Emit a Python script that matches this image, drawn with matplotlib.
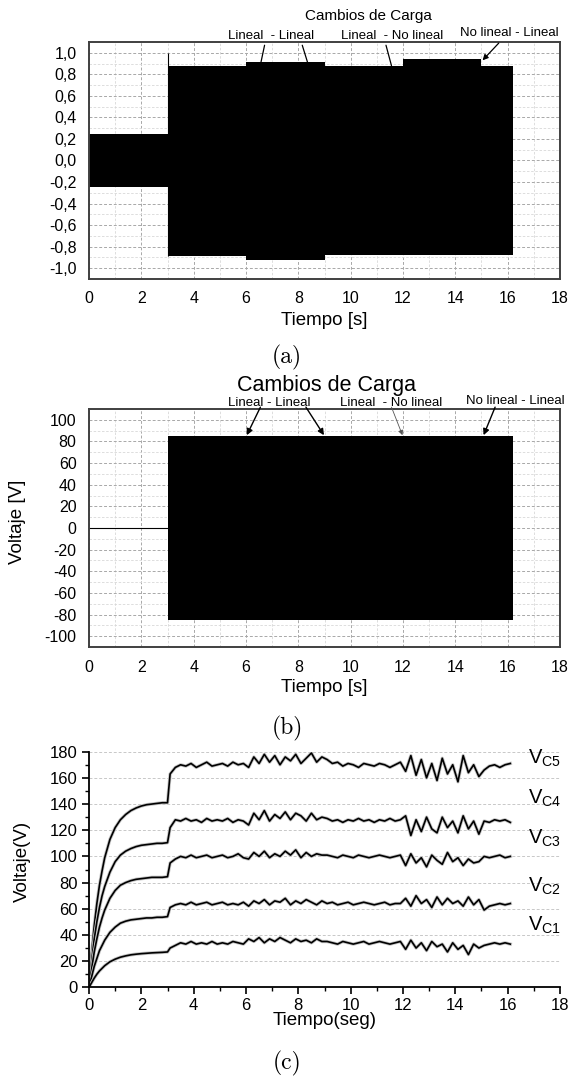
import numpy as np
import matplotlib
matplotlib.use("Agg")
import matplotlib.pyplot as plt
from matplotlib.ticker import MultipleLocator, FuncFormatter

plt.rcParams['font.family'] = ['Liberation Sans', 'DejaVu Sans']
plt.rcParams['axes.unicode_minus'] = False

# ---- (a) señal normalizada: envolvente por tramos ----
seg_edges = [0, 3.0, 6.0, 9.0, 12.0, 15.0, 16.2]
a_upper = [0.25, 0.88, 0.91, 0.88, 0.94, 0.88]
a_lower = [-0.25, -0.89, -0.92, -0.88, -0.88, -0.88]
a_spike_t = 3.0
a_spike_v = 1.0

# ---- (b) voltaje de salida ----
b_edges = [3.0, 16.2]
b_upper = [85.5]
b_lower = [-85.0]
b_pre_t = [0, 3.0]
b_pre_v = [0, 0]

# ---- (c) voltajes de condensadores ----
t_rise = [0, 0.1, 0.2, 0.3, 0.4, 0.5, 0.6, 0.8, 1.0, 1.2, 1.4, 1.6, 1.8, 2.0,
          2.2, 2.4, 2.6, 2.8, 3.0]
t_load = np.round(np.arange(3.1, 16.15, 0.2), 1)

vc5_rise = [0, 26, 47, 64, 78, 89, 99, 113, 122, 128, 132, 135, 137, 138.5,
            139.5, 140, 140.5, 141, 141]
vc4_rise = [0, 20, 37, 50, 61, 70, 77, 88, 96, 101, 104, 106, 107.5, 108.5,
            109, 109.5, 110, 110, 110.5]
vc3_rise = [0, 14, 27, 37, 46, 53, 59, 68, 74, 78, 80, 81.5, 82.5, 83,
            83.5, 84, 84, 84, 84.5]
vc2_rise = [0, 8, 16, 22, 28, 32, 36, 42, 46, 49, 50.5, 51.5, 52, 52.5,
            53, 53, 53.5, 53.5, 54]
vc1_rise = [0, 3.5, 7, 10, 12.5, 14.5, 16.5, 19.5, 21.5, 23, 24, 24.8, 25.3,
            25.7, 26, 26.3, 26.5, 26.7, 27]

vc5_load = [163, 168, 170, 169, 171, 168, 170, 172, 169, 170, 171, 169, 172, 170, 171,
            168, 176, 171, 178, 172, 177, 170, 176, 173, 178, 171, 175, 179, 172, 176,
            174, 171, 172, 169, 171, 170, 168, 171, 170, 169, 171, 170, 168, 170, 172,
            165, 177, 162, 174, 160, 171, 158, 175, 163, 170, 157, 177, 164, 170, 161,
            166, 169, 170, 168, 170, 171]
vc4_load = [122, 128, 127, 129, 127, 128, 126, 129, 127, 128, 127, 129, 126, 128, 127,
            124, 133, 128, 135, 127, 132, 129, 134, 128, 133, 131, 127, 133, 128, 130,
            129, 127, 128, 126, 128, 127, 129, 127, 128, 126, 128, 127, 129, 127, 128,
            131, 116, 128, 119, 130, 121, 118, 130, 122, 127, 118, 131, 121, 127, 117,
            127, 126, 128, 127, 128, 126]
vc3_load = [95, 98, 100, 99, 101, 99, 100, 101, 99, 100, 101, 99, 100, 102, 99,
            98, 103, 100, 104, 99, 102, 100, 104, 101, 105, 99, 103, 100, 102, 101,
            101, 100, 99, 101, 100, 99, 101, 100, 99, 100, 101, 100, 99, 100, 101,
            93, 102, 95, 99, 92, 101, 97, 94, 103, 96, 99, 93, 98, 95, 96,
            100, 99, 100, 101, 99, 100]
vc2_load = [61, 63, 64, 63, 65, 63, 64, 65, 63, 64, 65, 63, 64, 63, 65,
            62, 66, 64, 67, 63, 66, 65, 68, 63, 66, 64, 67, 65, 63, 66,
            64, 65, 63, 64, 65, 63, 64, 65, 64, 63, 64, 65, 63, 64, 64,
            68, 62, 70, 64, 67, 61, 69, 63, 68, 64, 66, 62, 69, 63, 67,
            59, 62, 63, 64, 63, 64]
vc1_load = [30, 32, 34, 33, 35, 33, 34, 33, 35, 33, 34, 33, 35, 34, 33,
            37, 35, 38, 34, 37, 35, 38, 36, 34, 37, 35, 36, 34, 37, 35,
            35, 34, 33, 35, 34, 33, 34, 35, 33, 34, 35, 34, 33, 34, 35,
            29, 36, 30, 34, 28, 35, 31, 33, 27, 34, 29, 32, 25, 33, 30,
            32, 33, 34, 33, 34, 33]
vc_names = ['C5', 'C4', 'C3', 'C2', 'C1']
vc_label_y = [175, 144, 114, 77, 47]

W, H = 571, 1079
fig = plt.figure(figsize=(W / 100, H / 100), dpi=100)


def px_axes(left, top, right, bottom):
    return fig.add_axes([left / W, 1 - bottom / H, (right - left) / W, (bottom - top) / H])


def grid_style(ax):
    ax.set_xlim(0, 18)
    ax.xaxis.set_major_locator(MultipleLocator(2))
    ax.xaxis.set_minor_locator(MultipleLocator(1))
    ax.grid(True, which='major', color='#a8a8a8', ls=(0, (3, 2)), lw=0.7)
    ax.grid(True, which='minor', color='#d8d8d8', ls=(0, (3, 2)), lw=0.6)
    ax.set_axisbelow(True)
    ax.tick_params(which='both', length=0, labelsize=11.5, pad=9)
    for s in ax.spines.values():
        s.set_color('#404040')
        s.set_linewidth(1.4)


# ---------------- (a) ----------------
ax1 = px_axes(89, 42, 560, 279)
grid_style(ax1)
ax1.set_ylim(-1.1, 1.1)
ax1.yaxis.set_major_locator(MultipleLocator(0.2))
ax1.yaxis.set_minor_locator(MultipleLocator(0.1))
ax1.yaxis.set_major_formatter(FuncFormatter(lambda v, p: f'{v:.1f}'.replace('.', ',').replace('-0,0', '0,0')))
ax1.fill_between(seg_edges, a_upper + [a_upper[-1]], a_lower + [a_lower[-1]],
                 step='post', color='black', lw=0)
ax1.vlines(a_spike_t, a_lower[1], a_spike_v, color='black', lw=0.8)
ax1.set_xlabel('Tiempo [s]', fontsize=13.5)
ax1.xaxis.set_label_coords(0.5, -0.173)
ax1.xaxis.label.set_va('center')

txt = dict(fontsize=9.5, ha='center', va='center', clip_on=False)
ax1.text(6.96, 1.158, 'Lineal  - Lineal', **txt)
ax1.text(11.6, 1.158, 'Lineal  - No lineal', **txt)
ax1.text(16.08, 1.18, 'No lineal - Lineal', **txt)
ln = dict(arrowstyle='-', color='black', lw=0.9, shrinkA=0, shrinkB=0)
ax1.annotate('', xy=(6.57, 0.91), xytext=(6.71, 1.07), arrowprops=ln, annotation_clip=False)
ax1.annotate('', xy=(8.36, 0.905), xytext=(8.15, 1.07), arrowprops=ln, annotation_clip=False)
ax1.annotate('', xy=(11.56, 0.88), xytext=(11.35, 1.07), arrowprops=ln, annotation_clip=False)
ax1.annotate('', xy=(15.04, 0.93), xytext=(15.66, 1.09), annotation_clip=False,
             arrowprops=dict(arrowstyle='-|>', color='black', lw=0.9, shrinkA=0, shrinkB=0,
                             mutation_scale=8))
fig.text(368 / W, 1 - 15.7 / H, 'Cambios de Carga', fontsize=11, ha='center', va='center')
fig.text(287 / W, 1 - 357 / H, '(a)', family='cmr10', fontsize=17, ha='center', va='center')

# ---------------- (b) ----------------
ax2 = px_axes(89, 409, 560, 647)
grid_style(ax2)
ax2.set_ylim(-110, 110)
ax2.yaxis.set_major_locator(MultipleLocator(20))
ax2.yaxis.set_minor_locator(MultipleLocator(10))
ax2.fill_between(b_edges, b_upper * 2, b_lower * 2, color='black', lw=0)
ax2.plot(b_pre_t, b_pre_v, color='black', lw=0.8)
ax2.set_xlabel('Tiempo [s]', fontsize=13.5)
ax2.xaxis.set_label_coords(0.5, -0.172)
ax2.xaxis.label.set_va('center')
ax2.set_ylabel('Voltaje [V]', fontsize=13.5)
ax2.yaxis.set_label_coords(-0.151, 0.526)
ax2.yaxis.label.set_va('center')

ax2.text(6.9, 115.4, 'Lineal - Lineal', **txt)
ax2.text(11.56, 115.4, 'Lineal  - No lineal', **txt)
ax2.text(16.28, 117.6, 'No lineal - Lineal', **txt)
arr = dict(arrowstyle='-|>', color='black', lw=1.0, shrinkA=0, shrinkB=0, mutation_scale=9)
ax2.annotate('', xy=(6.03, 85.8), xytext=(6.55, 111.7), arrowprops=arr, annotation_clip=False)
ax2.annotate('', xy=(8.98, 85.8), xytext=(8.29, 111.7), arrowprops=arr, annotation_clip=False)
ax2.annotate('', xy=(11.98, 85.8), xytext=(11.56, 111.7), annotation_clip=False,
             arrowprops=dict(arrowstyle='-|>', color='#555555', lw=0.6, shrinkA=0, shrinkB=0,
                             mutation_scale=7))
ax2.annotate('', xy=(15.08, 85.8), xytext=(15.52, 111.7), arrowprops=arr, annotation_clip=False)
fig.text(326.8 / W, 1 - 385 / H, 'Cambios de Carga', fontsize=15.5, ha='center', va='center')
fig.text(287 / W, 1 - 728 / H, '(b)', family='cmr10', fontsize=17, ha='center', va='center')

# ---------------- (c) ----------------
ax3 = px_axes(89, 751.7, 560, 987.3)
ax3.set_xlim(0, 18)
ax3.set_ylim(0, 180)
ax3.xaxis.set_major_locator(MultipleLocator(2))
ax3.xaxis.set_minor_locator(MultipleLocator(1))
ax3.yaxis.set_major_locator(MultipleLocator(20))
ax3.yaxis.set_minor_locator(MultipleLocator(10))
ax3.spines['top'].set_visible(False)
ax3.spines['right'].set_visible(False)
for s in ('left', 'bottom'):
    ax3.spines[s].set_linewidth(1.3)
ax3.tick_params(which='major', direction='out', length=5, width=1.2, labelsize=12, pad=3)
ax3.tick_params(which='minor', direction='out', length=3, width=1.0)
ax3.grid(True, axis='y', which='major', color='#c8c8c8', ls=(0, (3, 2)), lw=0.7)
ax3.set_axisbelow(True)

rises = [vc5_rise, vc4_rise, vc3_rise, vc2_rise, vc1_rise]
loads = [vc5_load, vc4_load, vc3_load, vc2_load, vc1_load]
for r, l in zip(rises, loads):
    tt = list(t_rise) + list(t_load)
    vv = list(r) + list(l)
    ax3.plot(tt, vv, color='#c4c4c4', lw=2.4, solid_joinstyle='round')
    ax3.plot(tt, vv, color='black', lw=1.2)

for name, y in zip(vc_names, vc_label_y):
    ax3.text(16.78, y, r'$\mathregular{V_{' + name + '}}$', fontsize=14.5,
             ha='left', va='center', clip_on=False)

ax3.set_xlabel('Tiempo(seg)', fontsize=13.5)
ax3.xaxis.set_label_coords(0.5, -0.139)
ax3.xaxis.label.set_va('center')
ax3.set_ylabel('Voltaje(V)', fontsize=13.5)
ax3.yaxis.set_label_coords(-0.142, 0.536)
ax3.yaxis.label.set_va('center')
fig.text(287 / W, 1 - 1063 / H, '(c)', family='cmr10', fontsize=17, ha='center', va='center')

fig.savefig('out.png', dpi=100)
